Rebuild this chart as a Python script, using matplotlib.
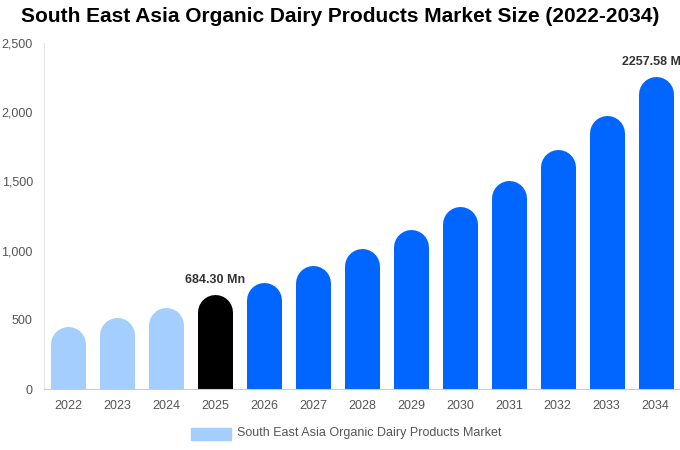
import matplotlib
matplotlib.use("Agg")
import matplotlib.pyplot as plt
plt.rcParams['font.family'] = ['Liberation Sans', 'DejaVu Sans']

years = [str(y) for y in range(2022, 2035)]
values = [455, 520, 592, 684.30, 773, 889, 1012, 1156, 1322, 1510, 1727, 1973, 2257.58]
colors = ['#a3cefe']*3 + ['#000000'] + ['#0066ff']*9
labels = {3: "684.30 Mn", 12: "2257.58 Mn"}

fig = plt.figure(figsize=(6.8, 4.5), dpi=100)
ax = fig.add_axes([44/680, 1-389/450, 636/680, 346/450])
ax.set_xlim(-0.5, 12.5)
ax.set_ylim(0, 2500)
fig.canvas.draw()
px_per_unit = ax.transData.transform((0, 1))[1] - ax.transData.transform((0, 0))[1]
bw_px = 35
lw_pt = bw_px * 72 / 100
half = (bw_px / 2) / px_per_unit
for i, (v, c) in enumerate(zip(values, colors)):
    ax.plot([i, i], [-half*2, v - half], color=c, lw=lw_pt, solid_capstyle='round')
    if i in labels:
        ax.text(i, v + 60, labels[i], ha='center', va='bottom', fontsize=9,
                fontweight='bold', color='#333333', clip_on=False)
ax.set_xticks(range(13))
ax.set_xticklabels(years)
ax.set_yticks([0, 500, 1000, 1500, 2000, 2500])
ax.set_yticklabels(['0', '500', '1,000', '1,500', '2,000', '2,500'])
ax.tick_params(length=0, labelsize=9, colors='#555555', pad=8)
for s in ['top', 'right']:
    ax.spines[s].set_visible(False)
ax.spines['left'].set_color('#e6e6e6')
ax.spines['bottom'].set_color('#cccccc')
fig.suptitle("South East Asia Organic Dairy Products Market Size (2022-2034)",
             x=0.5, y=0.985, fontsize=15, fontweight='bold', va='top')
fig.patches.append(plt.Rectangle((191/680, 1-440/450), 40/680, 12/450,
                                 transform=fig.transFigure, color='#a3cefe'))
fig.text(237/680, 1-433/450, "South East Asia Organic Dairy Products Market",
         fontsize=9, color='#555555', va='center')
fig.savefig("out.png", dpi=100)
